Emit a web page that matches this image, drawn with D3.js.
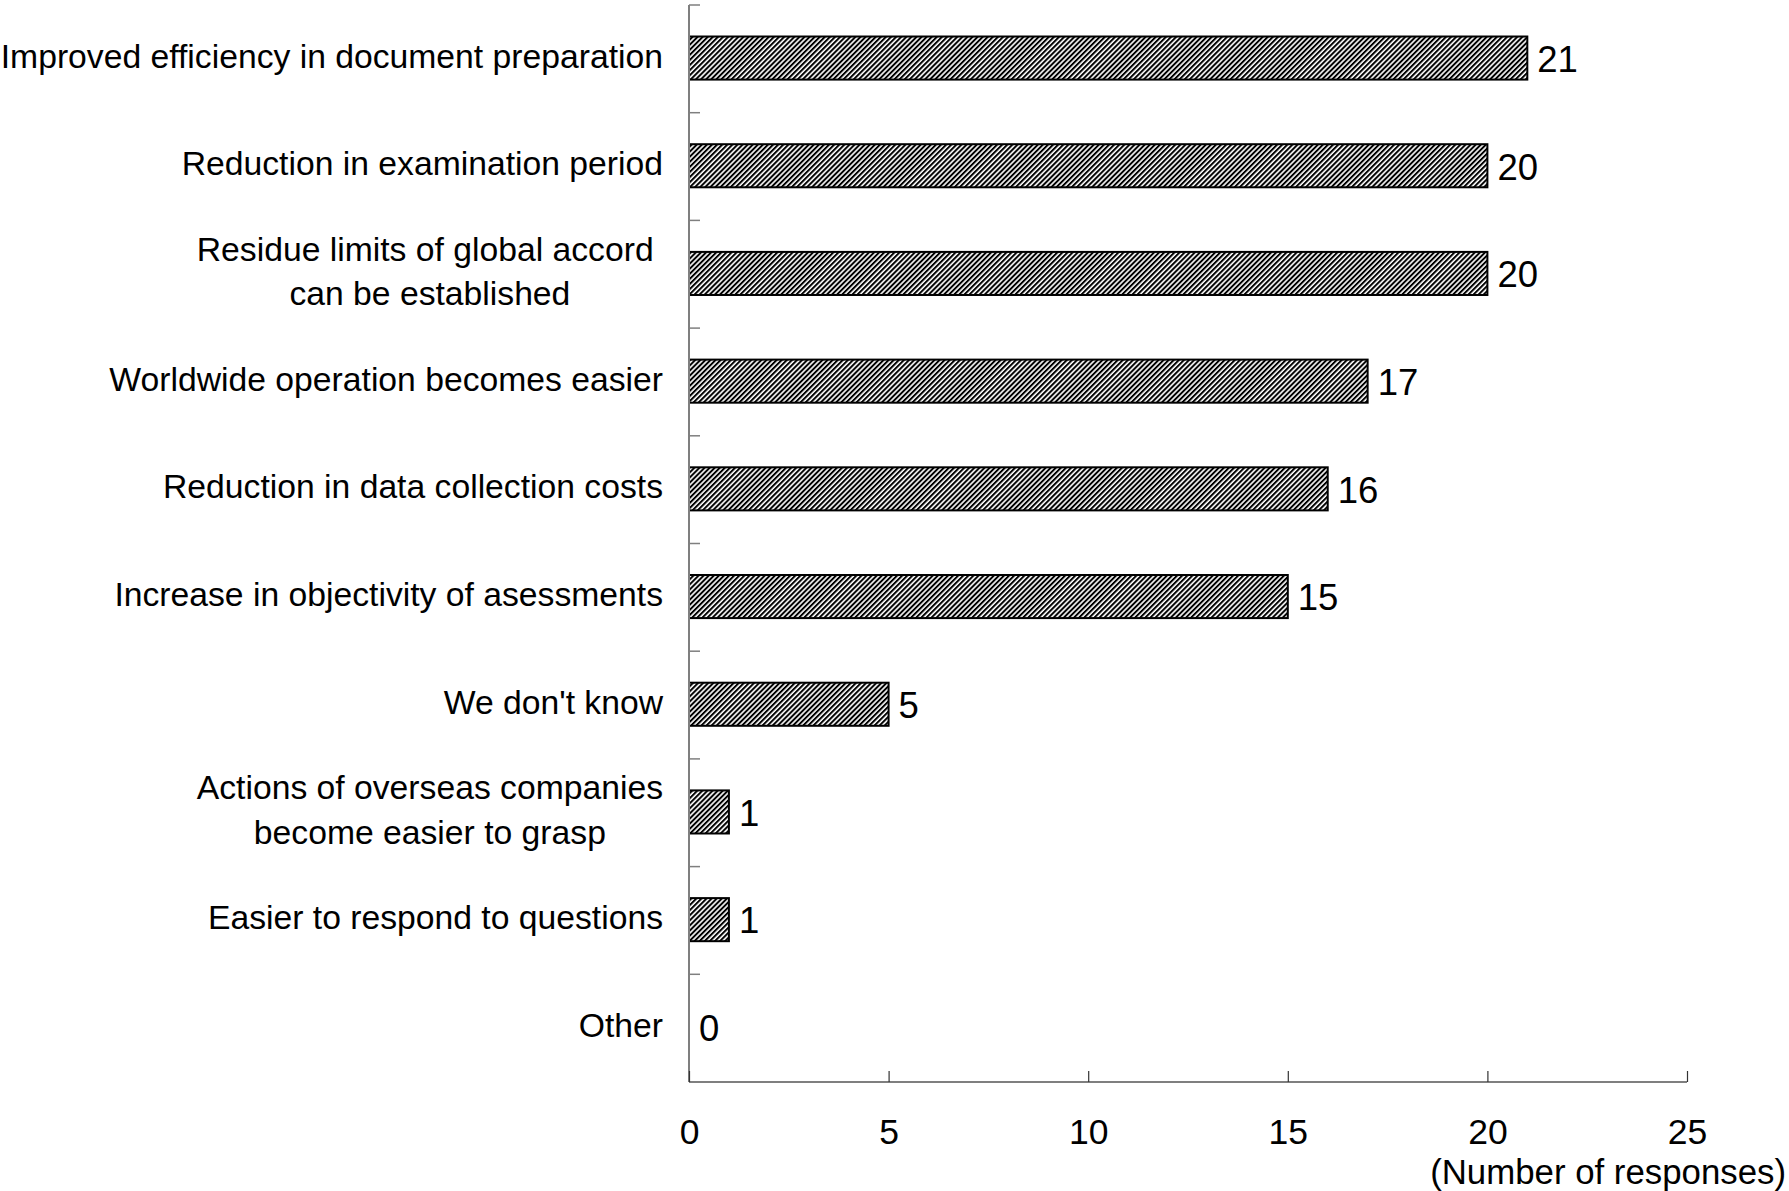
<!DOCTYPE html>
<html>
<head>
<meta charset="utf-8">
<script src="https://cdn.jsdelivr.net/npm/d3@7"></script>
<style>
  html, body { margin: 0; padding: 0; background: #fff; }
  svg text { font-family: "Liberation Sans", Arial, sans-serif; fill: #000; }
</style>
</head>
<body>
<svg id="chart" width="1789" height="1191"></svg>
<script>
// Survey results: expected benefits (number of responses)
const categories = [
  ["Improved efficiency in document preparation"],
  ["Reduction in examination period"],
  ["Residue limits of global accord ", "can be established"],
  ["Worldwide operation becomes easier"],
  ["Reduction in data collection costs"],
  ["Increase in objectivity of asessments"],
  ["We don't know"],
  ["Actions of overseas companies", "become easier to grasp"],
  ["Easier to respond to questions"],
  ["Other"]
];
const responses = [21, 20, 20, 17, 16, 15, 5, 1, 1, 0];
const xTicks = [0, 5, 10, 15, 20, 25];
const axisTitle = "(Number of responses)";

const svg = d3.select("#chart");
const plot = { left: 689, right: 1687, top: 5, bottom: 1082 };
const axisColor = "#7f7f7f";

const x = d3.scaleLinear().domain([0, 25]).range([plot.left, plot.right]);
const y = d3.scaleBand()
  .domain(d3.range(categories.length))
  .range([plot.top, plot.bottom])
  .padding(0);
const barH = y.bandwidth() * 0.4;

// diagonal hatch fill for the bars
const defs = svg.append("defs");
const pat = defs.append("pattern")
  .attr("id", "hatch")
  .attr("patternUnits", "userSpaceOnUse")
  .attr("width", 3.6)
  .attr("height", 3.6)
  .attr("patternTransform", "rotate(45)");
pat.append("rect").attr("width", 3.6).attr("height", 3.6).attr("fill", "#fff");
pat.append("rect").attr("width", 2.0).attr("height", 3.6).attr("fill", "#000");

// bars
const rows = d3.range(categories.length);
svg.append("g").selectAll("rect")
  .data(rows.filter(i => responses[i] > 0))
  .join("rect")
  .attr("x", x(0))
  .attr("y", i => y(i) + y.bandwidth() / 2 - barH / 2 - 0.8)
  .attr("width", i => x(responses[i]) - x(0))
  .attr("height", barH)
  .attr("fill", "url(#hatch)")
  .attr("stroke", "#000")
  .attr("stroke-width", 2);

// left axis with inward ticks at band boundaries
const gl = svg.append("g");
gl.append("line")
  .attr("x1", plot.left).attr("x2", plot.left)
  .attr("y1", plot.top).attr("y2", plot.bottom)
  .attr("stroke", axisColor).attr("stroke-width", 2);
gl.selectAll("line.tick")
  .data(d3.range(categories.length + 1))
  .join("line")
  .attr("class", "tick")
  .attr("x1", plot.left).attr("x2", plot.left + 11)
  .attr("y1", i => plot.top + i * y.step())
  .attr("y2", i => plot.top + i * y.step())
  .attr("stroke", axisColor).attr("stroke-width", 1.5);

// bottom axis with inward ticks
const gb = svg.append("g").attr("transform", `translate(0,${plot.bottom})`);
gb.call(d3.axisBottom(x).tickValues(xTicks).tickSize(-11).tickPadding(0).tickFormat(d3.format("d")));
gb.select(".domain").attr("stroke", axisColor).attr("stroke-width", 2)
  .attr("d", `M${plot.left},0H${plot.right}`);
gb.selectAll(".tick line").attr("stroke", "#333").attr("stroke-width", 1.2);
gb.selectAll(".tick text")
  .attr("y", 62.4)
  .attr("dy", null)
  .style("font-size", "35.5px")
  .style("font-family", "'Liberation Sans', Arial, sans-serif")
  .attr("fill", "#000");

svg.append("text")
  .attr("x", 1786).attr("y", 1183.5)
  .attr("text-anchor", "end")
  .style("font-size", "34.8px")
  .text(axisTitle);

// category labels, right aligned; wrapped labels are centred in their block
const labelRight = 663;
const lineGap = 44.5;
const lg = svg.append("g");
rows.forEach(i => {
  const lines = categories[i];
  const cy = y(i) + y.bandwidth() / 2;
  const t = lg.append("text")
    .style("font-size", "33.7px")
    .style("white-space", "pre");
  if (lines.length === 1) {
    t.attr("x", labelRight).attr("y", cy + 8.8)
      .attr("text-anchor", "end").text(lines[0]);
  } else {
    const spans = lines.map((s, k) =>
      t.append("tspan")
        .attr("y", cy + 8.8 + (k - (lines.length - 1) / 2) * lineGap)
        .text(s));
    const w = d3.max(spans, s => s.node().getComputedTextLength());
    const cx = labelRight - w / 2;
    spans.forEach(s => s.attr("x", cx).attr("text-anchor", "middle"));
  }
});

// value labels at bar ends
svg.append("g").selectAll("text")
  .data(rows)
  .join("text")
  .attr("x", i => x(responses[i]) + 10)
  .attr("y", i => y(i) + y.bandwidth() / 2 + 13)
  .style("font-size", "36.5px")
  .text(i => responses[i]);
</script>
</body>
</html>
